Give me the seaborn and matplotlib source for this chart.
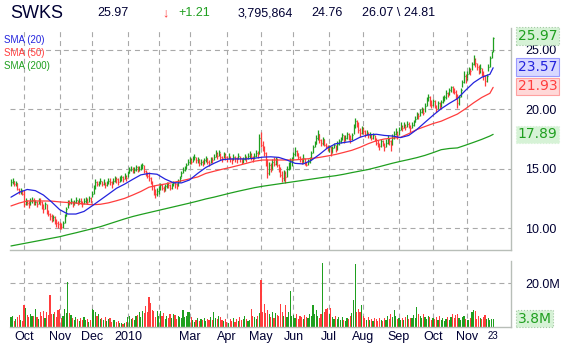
import numpy as np
import pandas as pd
import matplotlib
matplotlib.use("Agg")
import matplotlib.pyplot as plt
import matplotlib.transforms as mtransforms
import seaborn as sns

# ---- data ----
ticker = "SWKS"
header_items = ["25.97", "\u2193", "+1.21", "3,795,864", "24.76", "26.07 \\ 24.81"]

nyse_holidays = ["2009-11-26", "2009-12-25", "2010-01-01", "2010-01-18", "2010-02-15",
                 "2010-04-02", "2010-05-31", "2010-07-05", "2010-09-06"]

close = [
    13.9, 14.0, 13.7, 13.8, 13.3, 13.1, 13.2, 12.9,
    12.0, 12.2, 12.1, 11.9, 12.3, 12.4, 12.1, 12.2, 12.0, 12.3, 12.2, 11.9, 11.6, 12.0, 11.4, 11.2, 11.0, 10.8, 10.9, 10.6, 10.4, 10.3,
    10.2, 10.1, 10.4, 11.0, 11.6, 12.2, 12.1, 12.3, 12.0, 12.2, 12.4, 12.1, 12.3, 12.2, 12.0, 12.3, 12.4, 12.2, 12.5, 12.4,
    12.9, 13.4, 13.9, 13.7, 13.8, 14.0, 13.7, 13.9, 13.6, 13.8, 14.0, 13.9, 13.7, 14.0, 14.2, 14.1, 13.9, 14.2, 14.3, 14.1, 14.4, 14.2,
    14.6, 14.9, 15.0, 14.8, 14.9, 15.1, 14.9, 15.0, 15.2, 15.3, 14.8, 14.6, 14.4, 14.2, 13.9, 13.5, 13.2, 12.9, 13.1,
    13.3, 13.6, 13.4, 13.2, 13.5, 13.7, 13.6, 13.4, 13.6, 13.8, 13.7, 13.5, 13.9, 14.2, 14.6, 14.9, 15.0, 15.3, 15.6,
    15.8, 15.6, 15.9, 16.0, 15.7, 15.8, 15.5, 15.6, 15.4, 15.7, 15.9, 15.6, 15.5, 15.8, 15.7, 16.0, 16.3, 16.1, 16.4, 16.0, 15.9, 16.2, 16.0,
    15.9, 16.1, 15.8, 15.7, 16.0, 15.9, 15.8, 16.1, 15.9, 15.7, 15.8, 16.0, 15.9, 16.1, 16.2, 16.0, 15.9, 16.1, 16.3, 16.2, 17.6,
    17.0, 16.8, 16.3, 15.6, 14.6, 15.3, 15.0, 15.6, 15.4, 15.8, 15.3, 14.9, 14.5, 14.2, 14.6, 14.3, 15.0, 15.4, 15.7, 15.9,
    16.2, 16.5, 16.3, 16.0, 15.8, 15.6, 15.9, 15.5, 15.3, 15.6, 15.8, 16.3, 16.8, 17.1, 17.6, 17.9, 17.4, 17.2, 17.5, 17.0, 16.9, 16.7,
    16.8, 16.4, 16.7, 17.0, 16.6, 17.1, 17.3, 17.5, 17.8, 17.4, 17.6, 17.9, 17.7, 17.5, 17.8, 18.5, 19.0, 18.8, 18.3, 18.0, 18.4,
    18.2, 17.9, 18.1, 17.8, 17.9, 17.6, 17.8, 17.5, 17.2, 17.0, 16.9, 17.3, 17.1, 16.8, 17.2, 17.5, 17.3, 17.0, 17.6, 17.9, 18.1, 17.8,
    18.3, 18.6, 18.4, 18.7, 18.5, 18.8, 18.6, 18.4, 18.7, 18.9, 19.2, 19.6, 19.4, 19.8, 20.0, 19.7, 20.3, 20.8, 21.0, 20.6, 20.4,
    20.7, 20.3, 20.0, 20.5, 20.2, 20.6, 20.9, 21.0, 21.4, 21.2, 21.6, 21.9, 21.7, 21.5, 21.2, 20.5, 21.0, 21.6, 22.3, 22.8, 22.6,
    23.0, 23.4, 23.2, 23.8, 24.2, 23.9, 23.6, 23.3, 23.5, 23.1, 22.9, 22.4, 22.8, 23.6, 24.3, 24.76, 25.97,
]
high = [
    14.1, 14.2, 14.0, 13.95, 13.8, 13.4, 13.35, 13.2,
    13.2, 12.5, 12.4, 12.3, 12.5, 12.6, 12.5, 12.4, 12.3, 12.5, 12.5, 12.3, 12.0, 12.2, 12.0, 11.5, 11.3, 11.2, 11.1, 11.0, 10.8, 10.6,
    10.5, 10.4, 10.6, 11.2, 11.8, 12.4, 12.4, 12.5, 12.3, 12.4, 12.6, 12.4, 12.5, 12.5, 12.3, 12.5, 12.6, 12.5, 12.7, 12.6,
    13.1, 13.6, 14.1, 14.0, 14.0, 14.2, 14.0, 14.1, 13.9, 14.0, 14.2, 14.2, 14.0, 14.2, 14.4, 14.3, 14.2, 14.4, 14.5, 14.4, 14.6, 14.5,
    14.8, 15.1, 15.2, 15.1, 15.1, 15.3, 15.2, 15.2, 15.4, 15.5, 15.3, 14.9, 14.7, 14.7, 14.3, 14.0, 13.6, 13.3, 13.4,
    13.5, 13.8, 13.7, 13.5, 13.7, 13.9, 13.9, 13.7, 13.8, 14.0, 13.9, 13.8, 14.1, 14.4, 14.8, 15.1, 15.2, 15.5, 15.8,
    16.0, 15.9, 16.1, 16.2, 16.0, 16.0, 15.8, 15.8, 15.7, 15.9, 16.1, 15.9, 15.7, 16.0, 16.0, 16.2, 16.6, 16.4, 16.6, 16.3, 16.1, 16.4, 16.3,
    16.1, 16.3, 16.1, 15.9, 16.2, 16.1, 16.0, 16.3, 16.1, 15.9, 16.0, 16.2, 16.1, 16.3, 16.5, 16.3, 16.1, 16.3, 16.6, 16.5, 17.9,
    18.1, 17.3, 16.9, 16.4, 15.8, 15.6, 15.5, 15.8, 16.0, 16.0, 15.9, 15.4, 15.1, 14.8, 14.9, 14.8, 15.2, 15.6, 15.9, 16.0,
    16.4, 16.8, 16.6, 16.3, 16.1, 15.9, 16.2, 15.9, 15.6, 15.8, 16.0, 16.5, 17.0, 17.3, 17.8, 18.3, 17.9, 17.5, 17.7, 17.5, 17.2, 17.0,
    17.0, 16.9, 16.9, 17.2, 17.0, 17.3, 17.5, 17.7, 18.0, 17.8, 17.8, 18.1, 18.0, 17.8, 18.0, 18.8, 19.3, 19.1, 18.9, 18.4, 18.6,
    18.5, 18.3, 18.3, 18.1, 18.1, 17.9, 18.0, 17.8, 17.6, 17.4, 17.2, 17.5, 17.4, 17.2, 17.5, 17.8, 17.6, 17.4, 17.9, 18.2, 18.4, 18.2,
    18.5, 18.9, 18.7, 18.9, 18.8, 19.0, 18.9, 18.7, 18.9, 19.1, 19.4, 19.8, 19.7, 20.0, 20.2, 20.1, 20.5, 21.0, 21.3, 21.1, 20.8,
    20.9, 20.8, 20.4, 20.7, 20.6, 20.8, 21.1, 21.2, 21.6, 21.5, 21.8, 22.0, 22.0, 21.8, 21.6, 21.3, 21.2, 21.8, 22.5, 23.2, 23.0,
    23.2, 23.6, 23.5, 24.0, 24.6, 24.3, 23.9, 23.7, 23.8, 23.5, 23.2, 22.9, 23.0, 23.8, 24.5, 24.9, 26.07,
]
low = [
    13.5, 13.7, 13.5, 13.5, 13.2, 12.9, 12.9, 12.75,
    11.8, 11.9, 11.9, 11.7, 11.9, 12.1, 11.9, 11.9, 11.8, 12.0, 11.9, 11.6, 11.3, 11.6, 11.2, 11.0, 10.7, 10.5, 10.6, 10.3, 10.1, 10.0,
    9.95, 9.9, 10.0, 10.4, 11.0, 11.7, 11.9, 12.0, 11.8, 11.9, 12.1, 11.9, 12.0, 12.0, 11.8, 12.0, 12.1, 12.0, 12.2, 12.1,
    12.6, 12.9, 13.3, 13.5, 13.5, 13.7, 13.5, 13.6, 13.4, 13.5, 13.7, 13.6, 13.4, 13.7, 13.9, 13.8, 13.6, 13.9, 14.0, 13.9, 14.1, 14.0,
    14.3, 14.6, 14.8, 14.6, 14.6, 14.8, 14.7, 14.8, 14.9, 15.0, 14.6, 14.4, 14.2, 14.0, 13.7, 13.2, 12.8, 12.5, 12.7,
    12.9, 13.2, 13.2, 13.0, 13.1, 13.4, 13.4, 13.2, 13.3, 13.5, 13.4, 13.3, 13.5, 13.9, 14.3, 14.6, 14.8, 15.0, 15.3,
    15.4, 15.4, 15.6, 15.7, 15.5, 15.5, 15.2, 15.3, 15.2, 15.4, 15.6, 15.4, 15.2, 15.5, 15.5, 15.7, 16.0, 15.8, 16.1, 15.7, 15.6, 15.9, 15.7,
    15.6, 15.8, 15.6, 15.4, 15.7, 15.6, 15.5, 15.8, 15.6, 15.4, 15.5, 15.7, 15.6, 15.8, 15.9, 15.7, 15.6, 15.8, 16.0, 15.9, 16.2,
    16.8, 16.5, 16.1, 15.2, 14.2, 14.5, 14.7, 14.9, 15.2, 15.3, 15.1, 14.7, 14.3, 13.9, 14.0, 13.8, 14.3, 14.9, 15.0, 15.2,
    15.7, 16.1, 16.1, 15.8, 15.6, 15.4, 15.5, 15.3, 15.2, 15.3, 15.5, 15.8, 16.3, 16.8, 17.1, 17.4, 17.2, 16.9, 17.0, 16.9, 16.7, 16.5,
    16.4, 16.1, 16.3, 16.7, 16.4, 16.6, 17.0, 17.2, 17.4, 17.2, 17.3, 17.5, 17.4, 17.2, 17.4, 17.9, 18.4, 18.5, 18.0, 17.7, 17.9,
    17.9, 17.7, 17.8, 17.6, 17.6, 17.4, 17.5, 17.3, 17.0, 16.8, 16.6, 16.8, 16.9, 16.5, 16.8, 17.1, 17.0, 16.5, 17.0, 17.5, 17.8, 17.5,
    17.8, 18.3, 18.2, 18.4, 18.3, 18.5, 18.4, 18.1, 18.4, 18.6, 18.9, 19.2, 19.2, 19.4, 19.7, 19.5, 19.8, 20.3, 20.7, 20.3, 20.1,
    20.3, 20.1, 19.8, 20.0, 20.0, 20.2, 20.5, 20.7, 20.9, 21.0, 21.2, 21.5, 21.4, 21.3, 20.9, 20.1, 20.4, 21.0, 21.9, 22.2, 22.2,
    22.5, 23.0, 22.9, 23.3, 23.7, 23.6, 23.3, 23.0, 23.1, 22.8, 22.5, 22.0, 22.3, 23.2, 23.6, 24.3, 24.81,
]
# volume in millions of shares
volume = [
    4.5, 4.8, 2.7, 3.8, 4.5, 5.3, 3.0, 2.7,
    9.8, 8.8, 5.5, 4.6, 6.0, 4.8, 5.2, 8.0, 4.4, 3.8, 6.8, 5.0, 7.1, 4.2, 6.8, 5.4, 14.4, 6.1, 5.8, 6.8, 4.6, 7.6,
    8.0, 4.2, 5.0, 8.0, 6.2, 20.6, 6.5, 5.6, 4.0, 3.2, 4.5, 3.6, 2.9, 4.1, 3.4, 4.4, 3.0, 3.8, 2.5, 3.3,
    8.3, 7.6, 6.6, 4.8, 6.0, 3.6, 4.2, 3.1, 4.5, 2.8, 3.6, 3.9, 2.4, 3.3, 3.0, 2.2, 2.7, 1.8, 1.6, 1.2, 1.9, 2.3,
    4.6, 5.2, 3.8, 4.1, 3.2, 4.8, 5.6, 6.7, 4.5, 7.4, 6.5, 9.4, 7.0, 13.8, 10.8, 7.8, 7.5, 4.4, 7.1,
    5.0, 7.1, 4.8, 6.5, 3.6, 5.1, 3.9, 5.8, 4.3, 6.0, 5.4, 3.6, 4.8, 4.4, 3.9, 7.8, 4.6, 5.2, 6.8,
    6.9, 4.4, 3.4, 2.5, 3.2, 4.0, 2.8, 3.5, 3.1, 4.2, 2.6, 3.8, 3.0, 4.5, 3.4, 6.8, 4.0, 3.6, 4.9, 4.6, 3.1, 2.6, 3.8,
    2.4, 2.0, 3.5, 2.6, 4.1, 2.3, 3.6, 2.9, 4.6, 3.0, 3.5, 5.1, 3.8, 2.8, 3.2, 8.3, 5.0, 4.6, 3.6, 5.2, 6.4,
    21.4, 6.6, 10.6, 6.3, 7.8, 5.8, 4.5, 7.0, 3.9, 6.5, 5.4, 4.8, 10.6, 6.6, 5.2, 9.8, 4.5, 6.8, 16.3, 5.0,
    5.3, 4.2, 6.0, 3.8, 5.1, 4.4, 3.6, 5.5, 4.7, 3.9, 6.1, 4.8, 9.8, 5.7, 7.6, 5.0, 4.3, 6.0, 28.9, 6.8, 8.0, 8.5,
    6.0, 8.8, 4.5, 3.8, 5.2, 3.6, 4.4, 3.1, 4.6, 3.3, 2.8, 4.1, 3.5, 5.0, 6.4, 12.1, 28.6, 7.0, 8.0, 6.8, 10.0,
    5.0, 4.0, 3.2, 4.6, 3.0, 3.8, 2.7, 4.2, 3.5, 2.6, 3.9, 3.1, 2.9, 4.0, 3.3, 5.2, 3.6, 6.1, 4.4, 7.9, 5.0, 3.8,
    4.2, 3.4, 4.0, 3.0, 4.6, 5.6, 3.5, 4.3, 3.9, 5.5, 4.2, 9.3, 6.0, 5.2, 4.1, 5.8, 4.4, 3.6, 5.0, 4.4, 3.2,
    4.0, 3.5, 4.4, 3.1, 5.0, 3.3, 4.1, 2.8, 3.6, 4.5, 3.2, 4.7, 6.0, 3.9, 5.4, 6.0, 4.2, 3.1, 4.4, 5.2, 3.8,
    3.0, 3.4, 4.0, 7.0, 7.8, 7.2, 3.8, 5.0, 4.2, 3.5, 4.4, 5.3, 3.6, 4.0, 3.3, 3.6, 3.8,
]

# moving averages, read every 5th bar (plus the last bar)
sma20 = [12.6, 13.0, 13.25, 13.15, 12.78, 12.2, 11.55, 11.18, 11.18, 11.4, 11.87,
         12.36, 12.85, 13.35, 13.7, 14.1, 14.48, 14.6, 14.53, 14.12, 13.82,
         13.8, 14.05, 14.6, 15.1, 15.45, 15.75, 15.82, 15.82, 15.82, 15.88,
         15.97, 16.0, 15.95, 15.73, 15.45, 15.4, 15.7, 16.2, 16.75, 17.1,
         17.2, 17.3, 17.65, 17.85, 17.9, 17.8, 17.75, 17.62, 17.8, 18.3,
         18.9, 19.5, 20.05, 20.5, 20.9, 21.6, 22.25, 22.7, 22.95, 23.5]
sma50 = [11.86, 12.1, 12.28, 12.28, 12.28, 12.27, 12.2, 12.15, 12.1, 12.03, 11.96,
         12.0, 12.12, 12.3, 12.5, 12.78, 13.08, 13.44, 13.6, 13.71, 13.85,
         13.98, 14.14, 14.3, 14.6, 14.78, 14.95, 15.1, 15.27, 15.45, 15.63,
         15.73, 15.73, 15.73, 15.73, 15.74, 15.8, 15.86, 15.95, 16.07, 16.2,
         16.37, 16.55, 16.8, 17.1, 17.35, 17.5, 17.58, 17.64, 17.95, 18.3,
         18.55, 18.8, 19.0, 19.3, 19.6, 20.05, 20.55, 21.0, 21.35, 21.85]
sma200 = [8.49, 8.62, 8.75, 8.88, 9.01, 9.14, 9.27, 9.44, 9.6, 9.77, 9.94,
          10.11, 10.33, 10.55, 10.77, 10.97, 11.14, 11.3, 11.46, 11.62, 11.78,
          11.94, 12.1, 12.27, 12.45, 12.6, 12.77, 12.94, 13.1, 13.25, 13.4,
          13.52, 13.62, 13.72, 13.82, 13.92, 14.02, 14.12, 14.22, 14.32, 14.41,
          14.53, 14.67, 14.8, 14.93, 15.1, 15.28, 15.46, 15.62, 15.77, 15.93,
          16.12, 16.35, 16.6, 16.7, 16.75, 16.98, 17.22, 17.47, 17.75, 17.89]

price_ticks = [10, 15, 20, 25]
volume_ticks = [20]
last_close, last_sma20, last_sma50, last_sma200, last_volume = 25.97, 23.57, 21.93, 17.89, 3.8

GREEN = "#1f9f1f"
RED = "#ff3d3d"
BLUE = "#2323dd"
TEXT = "#000033"
GRID = "#a9a9a9"
FRAME = "#b8beb8"

# ---- figure ----
sns.set_style("white")
plt.rcParams["font.family"] = ["Liberation Sans", "DejaVu Sans"]

dates = pd.bdate_range("2009-09-21", "2010-11-23")
dates = dates[~dates.isin(pd.to_datetime(nyse_holidays))]
n = len(close)
idx = np.arange(n)
up = np.r_[True, np.diff(close) >= 0]
bar_colors = np.where(up, GREEN, RED)
month_starts = [i for i in range(1, n) if dates[i].month != dates[i - 1].month]
month_labels = []
for i in month_starts:
    d = dates[i]
    if d.month == 1:
        month_labels.append(str(d.year))
    elif d.month == 2:
        month_labels.append("")
    else:
        month_labels.append(d.strftime("%b"))
sma_x = np.r_[np.arange(0, n - 2, 5), n - 1]

W, H = 567, 351
fig = plt.figure(figsize=(W / 100, H / 100), dpi=100)
ax = fig.add_axes([10 / W, 1 - 250 / H, 501 / W, 222 / H])
axv = fig.add_axes([10 / W, 1 - 327 / H, 501 / W, 66 / H], sharex=ax)

dash = (0, (4.5, 3.5))
for a in (ax, axv):
    for s in ("left", "top"):
        a.spines[s].set_visible(False)
    for s in ("right", "bottom"):
        a.spines[s].set_color(FRAME)
        a.spines[s].set_linewidth(1.0)
    a.set_xticks(month_starts)
    a.grid(True, color=GRID, ls=dash, lw=0.8)
    a.set_axisbelow(True)

# price bars
ax.vlines(idx, low, high, colors=bar_colors, lw=0.9)
ax.hlines(close, idx, idx + 0.6, colors=bar_colors, lw=0.9)
sns.lineplot(x=sma_x, y=sma200, ax=ax, color=GREEN, lw=0.9)
sns.lineplot(x=sma_x, y=sma50, ax=ax, color=RED, lw=0.9)
sns.lineplot(x=sma_x, y=sma20, ax=ax, color=BLUE, lw=0.9)

ax.set_xlim(-0.6, 308)
ax.set_ylim(8.15, 26.85)
ax.set_yticks(price_ticks)
ax.set_yticklabels([f"{v:.2f}" for v in price_ticks])
ax.yaxis.tick_right()
ax.tick_params(axis="y", length=0, pad=10, labelsize=9, labelcolor=TEXT)
ax.tick_params(axis="x", length=0, labelbottom=False)
ax.set_xlabel("")
ax.set_ylabel("")

# volume bars
axv.bar(idx, volume, width=0.72, color=bar_colors, linewidth=0)
axv.set_ylim(0, 30)
axv.set_yticks(volume_ticks)
axv.set_yticklabels([f"{v:.1f}M" for v in volume_ticks])
axv.yaxis.tick_right()
axv.tick_params(axis="y", length=0, pad=10, labelsize=9, labelcolor=TEXT)
axv.set_xticklabels(month_labels)
axv.tick_params(axis="x", length=0, pad=3, labelsize=9, labelcolor=TEXT)
axv.text(n - 1, -0.13, str(dates[-1].day), transform=mtransforms.blended_transform_factory(axv.transData, axv.transAxes),
         ha="center", va="center", fontsize=7, color=TEXT)

# value boxes on the right
def value_box(a, y, txt, fc, ec, tc, ls="-"):
    tr = mtransforms.blended_transform_factory(a.transAxes, a.transData)
    a.text(1.013, y, txt, transform=tr, ha="left", va="center", fontsize=10, color=tc,
           family="DejaVu Sans", clip_on=False, zorder=5,
           bbox=dict(boxstyle="square,pad=0.12", fc=fc, ec=ec, ls=ls, lw=0.8))

value_box(ax, last_close + 0.2, f"{last_close:.2f}", "#d6f2d6", "#a3c9a3", GREEN, ":")
value_box(ax, last_sma20, f"{last_sma20:.2f}", "#d8d8ff", "#9a9aff", BLUE)
value_box(ax, last_sma50, f"{last_sma50:.2f}", "#ffd8d8", "#ffa0a0", RED)
value_box(ax, last_sma200, f"{last_sma200:.2f}", "#d6f2d6", "#d6f2d6", GREEN, ":")
value_box(axv, last_volume, f"{last_volume:.1f}M", "#d6f2d6", "#a3c9a3", GREEN, ":")

# legend
fig.text(4 / W, 1 - 40 / H, "SMA (20)", color=BLUE, fontsize=7, va="center")
fig.text(4 / W, 1 - 53 / H, "SMA (50)", color=RED, fontsize=7, va="center")
fig.text(4 / W, 1 - 66 / H, "SMA (200)", color=GREEN, fontsize=7, va="center")

# header line
ty = 1 - 13 / H
fig.text(10 / W, ty, ticker, fontsize=13, color=TEXT, va="center")
header_x = [97, 162, 178, 238, 311, 362]
header_colors = [TEXT, RED, GREEN, TEXT, TEXT, TEXT]
for x, s, c in zip(header_x, header_items, header_colors):
    fig.text(x / W, ty, s, fontsize=9, color=c, va="center")

fig.savefig("out.png", dpi=100)
